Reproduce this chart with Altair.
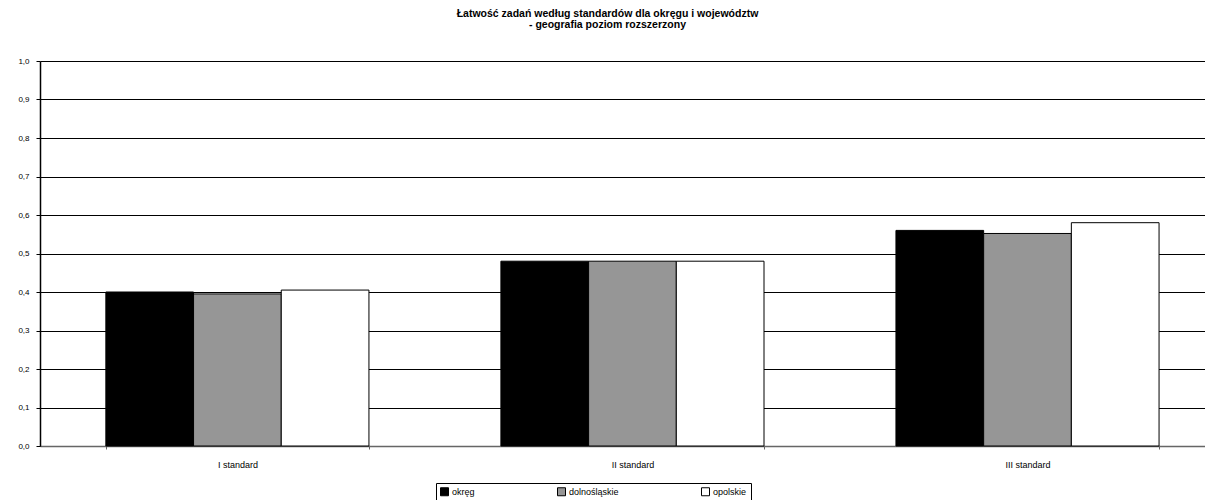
import altair as alt
import pandas as pd

categories = ["I standard", "II standard", "III standard"]
series = ["okręg", "dolnośląskie", "opolskie"]
okreg = [0.40, 0.48, 0.56]
dolnoslaskie = [0.395, 0.48, 0.552]
opolskie = [0.405, 0.48, 0.58]
colors = ["#000000", "#969696", "#ffffff"]

rows = []
for i, c in enumerate(categories):
    for s, vals in zip(series, [okreg, dolnoslaskie, opolskie]):
        rows.append({"standard": c, "seria": s, "wartosc": vals[i]})
df = pd.DataFrame(rows)

font = "Liberation Sans"

chart = alt.Chart(df).mark_bar(stroke="#000000", strokeWidth=1).encode(
    x=alt.X("standard:N", sort=categories, title=None,
            scale=alt.Scale(paddingInner=0.334, paddingOuter=0.1415, align=0.589),
            axis=alt.Axis(labelAngle=0, labelFontSize=9, labelFont=font, labelColor="#000000",
                          labelPadding=11, domainColor="#666666", tickColor="#666666",
                          tickSize=3, tickBand="extent", domainWidth=1.5)),
    xOffset=alt.XOffset("seria:N", sort=series, scale=alt.Scale(paddingInner=0, paddingOuter=0)),
    y=alt.Y("wartosc:Q", title=None,
            scale=alt.Scale(domain=[0, 1], nice=False),
            axis=alt.Axis(values=[i / 10 for i in range(11)],
                          labelExpr="replace(format(datum.value, '.1f'), '.', ',')",
                          labelFontSize=8, labelFont=font, labelColor="#000000",
                          labelPadding=7, tickSize=4, tickColor="#000000",
                          domainColor="#000000", domainWidth=1.5,
                          grid=True, gridColor="#000000", gridWidth=1, gridOpacity=1)),
    fill=alt.Fill("seria:N", sort=series, title=None,
                  scale=alt.Scale(domain=series, range=colors),
                  legend=alt.Legend(orient="none", legendX=396, legendY=422, direction="horizontal",
                                    symbolType="square", symbolSize=64, symbolStrokeColor="#000000",
                                    symbolStrokeWidth=1, labelFontSize=9, labelFont=font,
                                    labelColor="#000000", columnPadding=80, symbolOffset=0,
                                    labelOffset=3, padding=4, strokeColor="#000000",
                                    fillColor="#ffffff")),
).properties(
    width=1165,
    height=385,
    title=alt.Title(["Łatwość zadań według standardów dla okręgu i województw",
                     "- geografia poziom rozszerzony"],
                    font=font, fontSize=10.5, fontWeight="bold", color="#000000",
                    anchor="middle", offset=27, lineHeight=11, dx=-15),
    autosize=alt.AutoSizeParams(type="none"),
    padding={"left": 32, "top": 53, "right": 0, "bottom": 56},
).configure_view(stroke=None)

chart.save("out.html", embed_options={"renderer": "svg", "actions": False})
